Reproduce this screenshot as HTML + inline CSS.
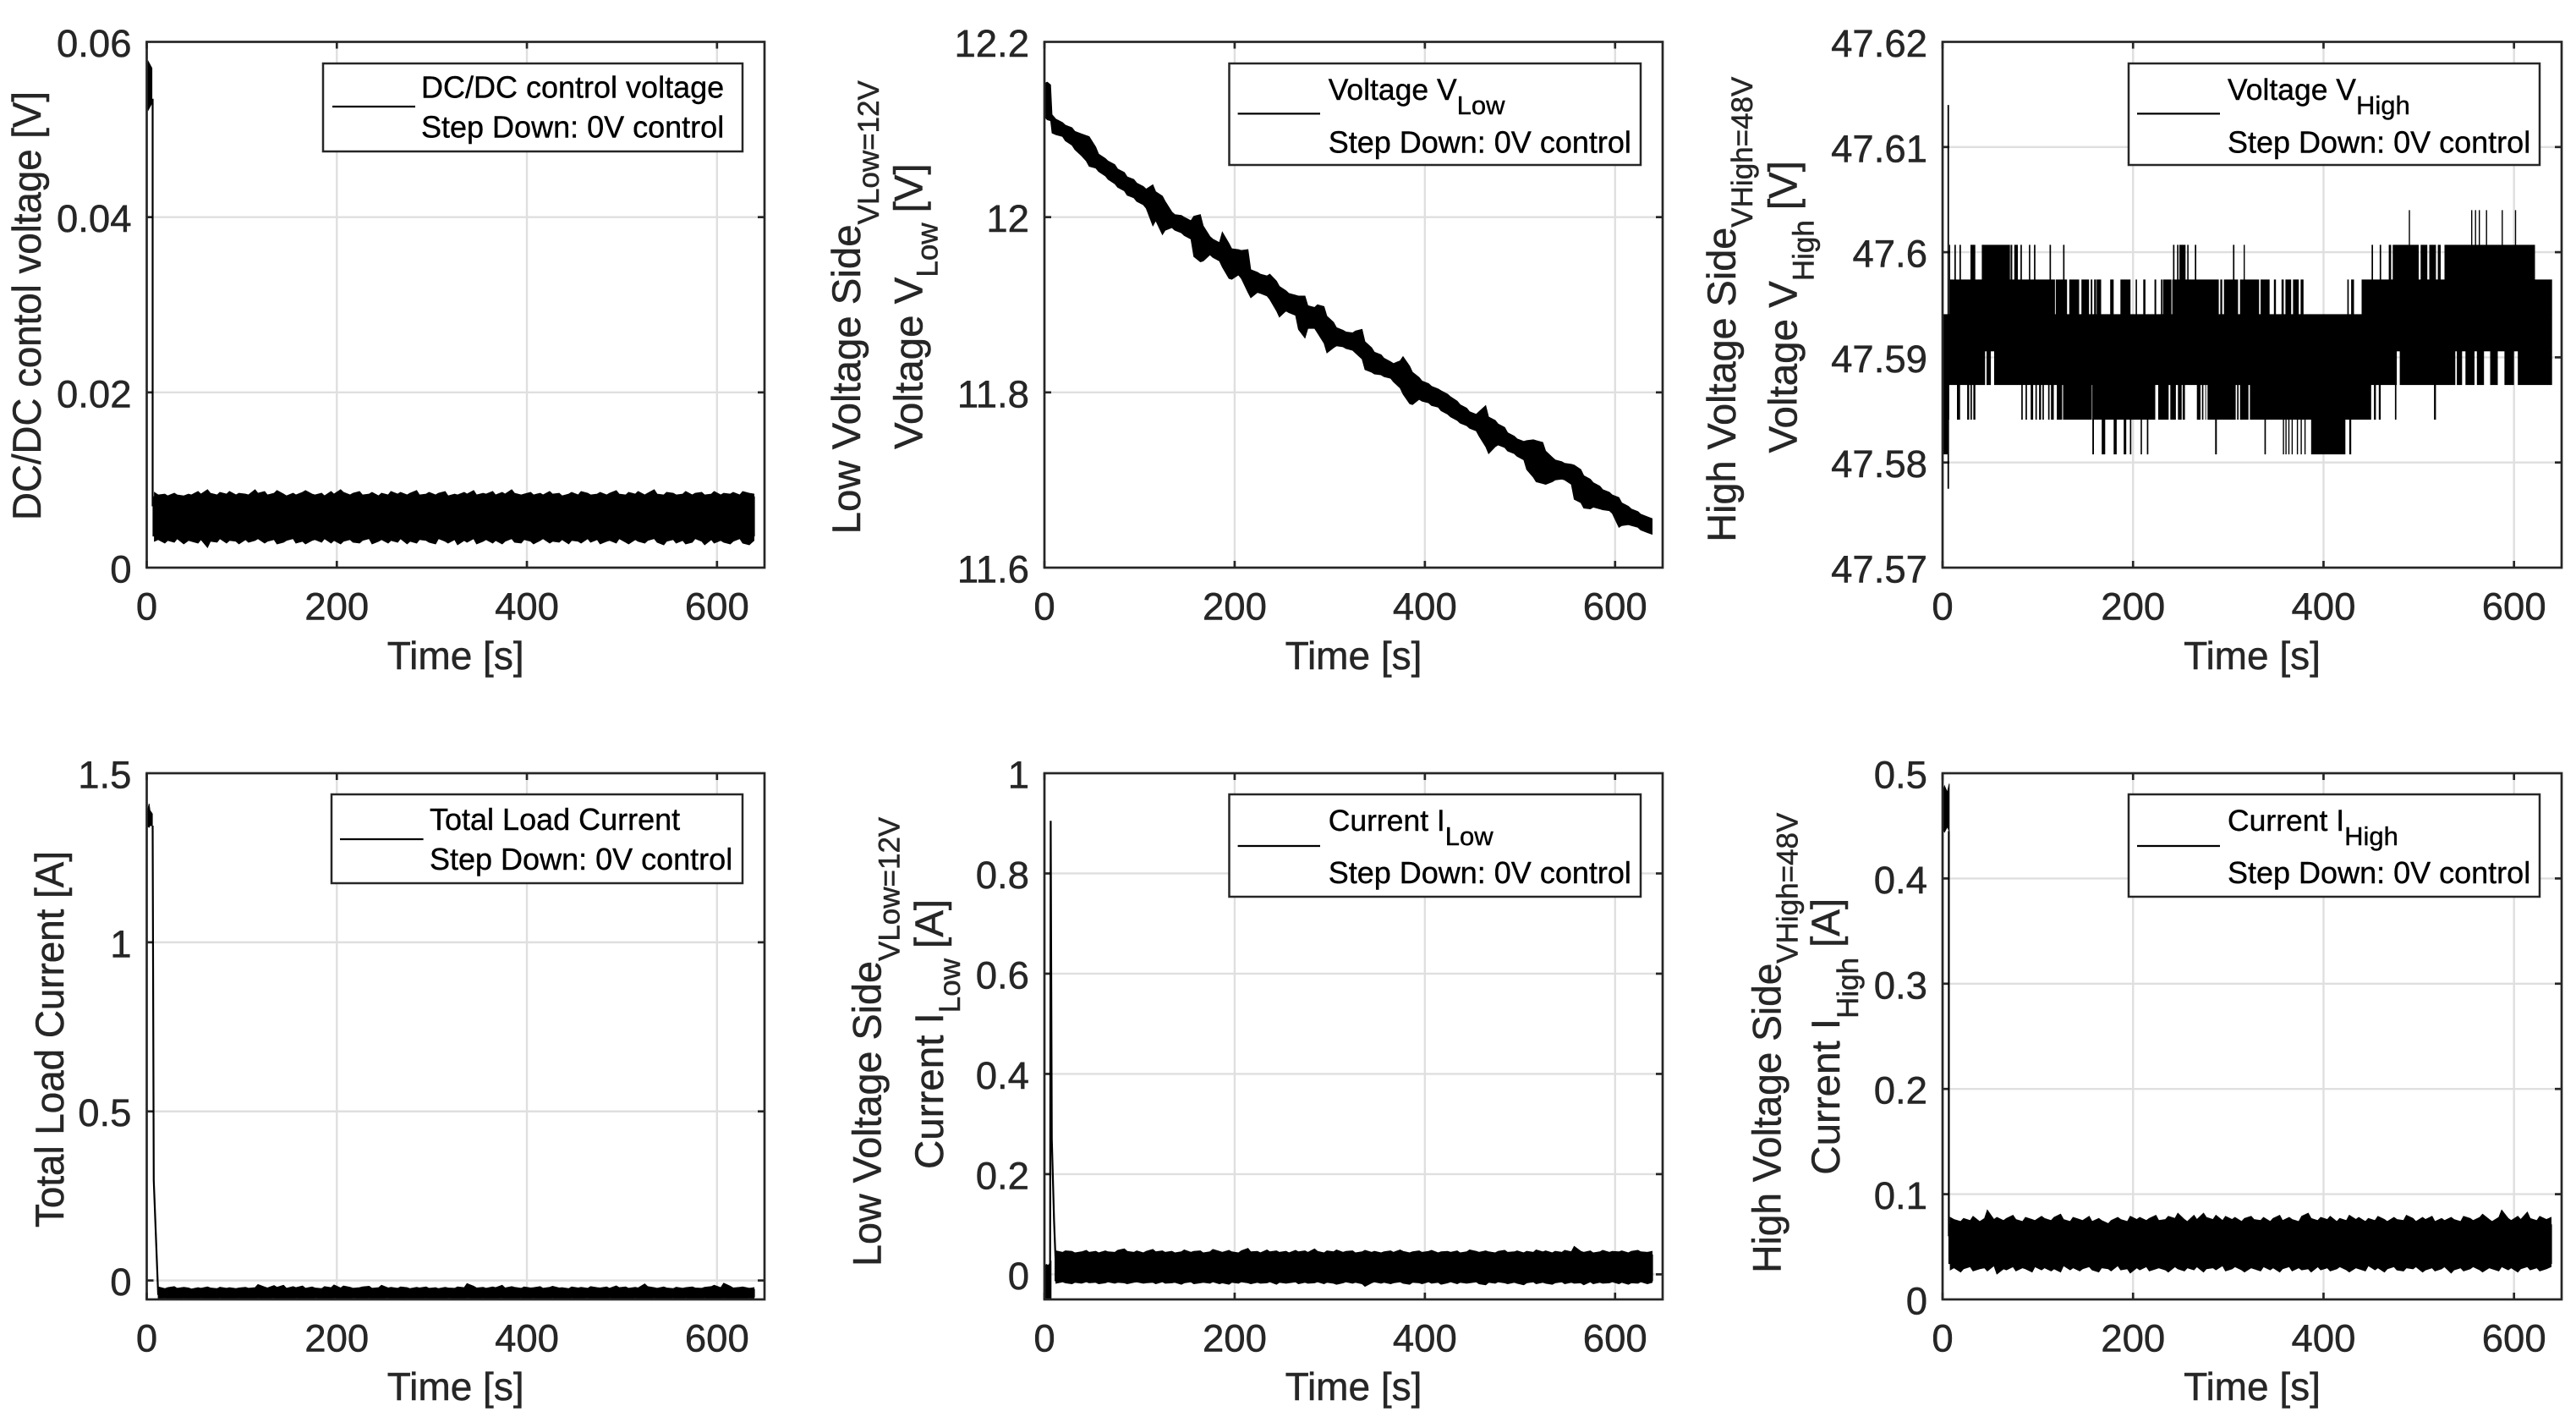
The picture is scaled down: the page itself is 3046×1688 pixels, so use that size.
<!DOCTYPE html>
<html lang="en">
<head>
<meta charset="utf-8">
<title>DC/DC step down measurements</title>
<style>
html,body{margin:0;padding:0;background:#fff;}
svg{display:block;font-family:"Liberation Sans",Arial,sans-serif;}
.lab{font-size:47.5px;fill:#262626;stroke:#262626;stroke-width:.5px;}
.xlab{font-size:46px;fill:#262626;text-anchor:middle;stroke:#262626;stroke-width:.5px;}
.sub{font-size:35px;}
.leg{font-size:36px;fill:#000;stroke:#000;stroke-width:.4px;}
.legsub{font-size:31px;}
.frame{fill:none;stroke:#262626;stroke-width:2.7;}
.legbox{fill:#fff;stroke:#262626;stroke-width:2.5;}
.tick{font-size:45.5px;fill:#262626;stroke:#262626;stroke-width:.5px;}
</style>
</head>
<body>
<svg id="chart" xmlns="http://www.w3.org/2000/svg" width="3046" height="1688" viewBox="0 0 3046 1688">
<rect width="3046" height="1688" fill="#fff"/>
<defs>
<clipPath id="clip-ctrl"><rect x="173.5" y="49.5" width="730.5" height="621.5"/></clipPath>
<clipPath id="clip-vlow"><rect x="1235" y="49.5" width="731" height="621.5"/></clipPath>
<clipPath id="clip-vhigh"><rect x="2297" y="49.5" width="732" height="621.5"/></clipPath>
<clipPath id="clip-load"><rect x="173.5" y="914" width="730.5" height="622"/></clipPath>
<clipPath id="clip-ilow"><rect x="1235" y="914" width="731" height="622"/></clipPath>
<clipPath id="clip-ihigh"><rect x="2297" y="914" width="732" height="622"/></clipPath>
</defs>

<g>
<g id="ctrl-grid"></g>
<g id="ctrl-marks" clip-path="url(#clip-ctrl)"></g>
<rect class="frame" x="173.5" y="49.5" width="730.5" height="621.5"/>
<text class="xlab" x="538.7" y="791">Time [s]</text>
<text class="lab" transform="translate(48,615) rotate(-90)" textLength="507" lengthAdjust="spacingAndGlyphs">DC/DC contol voltage [V]</text>
<g>
<rect class="legbox" x="382" y="75" width="496" height="104"/>
<line x1="393" x2="491" y1="126" y2="126" stroke="#000" stroke-width="2.2"/>
<text class="leg" x="498" y="115.5">DC/DC control voltage</text>
<text class="leg" x="498" y="162.6">Step Down: 0V control</text>
</g>
</g>

<g>
<g id="vlow-grid"></g>
<g id="vlow-marks" clip-path="url(#clip-vlow)"></g>
<rect class="frame" x="1235" y="49.5" width="731" height="621.5"/>
<text class="xlab" x="1600.5" y="791">Time [s]</text>
<text class="lab" transform="translate(1017,631.4) rotate(-90)"><tspan textLength="366" lengthAdjust="spacingAndGlyphs">Low Voltage Side</tspan><tspan class="sub" dy="22">VLow=12V</tspan></text>
<text class="lab" transform="translate(1090.6,531) rotate(-90)">Voltage V<tspan class="sub" dy="18">Low</tspan><tspan dy="-18" dx="12">[V]</tspan></text>
<g>
<rect class="legbox" x="1453.5" y="75" width="486.5" height="120"/>
<line x1="1463.6" x2="1561" y1="134.4" y2="134.4" stroke="#000" stroke-width="2.2"/>
<text class="leg" x="1570.7" y="118" font-size="35.5" style="font-size:35.5px">Voltage V<tspan class="legsub" dy="17">Low</tspan></text>
<text class="leg" x="1570.7" y="180.5">Step Down: 0V control</text>
</g>
</g>

<g>
<g id="vhigh-grid"></g>
<g id="vhigh-marks" clip-path="url(#clip-vhigh)"></g>
<rect class="frame" x="2297" y="49.5" width="732" height="621.5"/>
<text class="xlab" x="2663" y="791">Time [s]</text>
<text class="lab" transform="translate(2052,640.7) rotate(-90)"><tspan textLength="372" lengthAdjust="spacingAndGlyphs">High Voltage Side</tspan><tspan class="sub" dy="20">VHigh=48V</tspan></text>
<text class="lab" transform="translate(2124.7,535.5) rotate(-90)">Voltage V<tspan class="sub" dy="20">High</tspan><tspan dy="-20" dx="12">[V]</tspan></text>
<g>
<rect class="legbox" x="2517" y="75" width="486" height="120"/>
<line x1="2527" x2="2625" y1="134.4" y2="134.4" stroke="#000" stroke-width="2.2"/>
<text class="leg" x="2634" y="118" style="font-size:35.5px">Voltage V<tspan class="legsub" dy="17">High</tspan></text>
<text class="leg" x="2634" y="180.5">Step Down: 0V control</text>
</g>
</g>

<g>
<g id="load-grid"></g>
<g id="load-marks" clip-path="url(#clip-load)"></g>
<rect class="frame" x="173.5" y="914" width="730.5" height="622"/>
<text class="xlab" x="538.7" y="1655">Time [s]</text>
<text class="lab" transform="translate(75,1451) rotate(-90)" textLength="445" lengthAdjust="spacingAndGlyphs">Total Load Current [A]</text>
<g>
<rect class="legbox" x="392" y="939" width="486" height="105"/>
<line x1="402" x2="500.6" y1="992" y2="992" stroke="#000" stroke-width="2.2"/>
<text class="leg" x="508" y="981">Total Load Current</text>
<text class="leg" x="508" y="1028">Step Down: 0V control</text>
</g>
</g>

<g>
<g id="ilow-grid"></g>
<g id="ilow-marks" clip-path="url(#clip-ilow)"></g>
<rect class="frame" x="1235" y="914" width="731" height="622"/>
<text class="xlab" x="1600.5" y="1655">Time [s]</text>
<text class="lab" transform="translate(1041.7,1497) rotate(-90)"><tspan textLength="361" lengthAdjust="spacingAndGlyphs">Low Voltage Side</tspan><tspan class="sub" dy="22">VLow=12V</tspan></text>
<text class="lab" transform="translate(1115,1382) rotate(-90)">Current I<tspan class="sub" dy="20">Low</tspan><tspan dy="-20" dx="12">[A]</tspan></text>
<g>
<rect class="legbox" x="1453.5" y="939" width="486.5" height="121"/>
<line x1="1463.6" x2="1561" y1="1000" y2="1000" stroke="#000" stroke-width="2.2"/>
<text class="leg" x="1570.7" y="982" style="font-size:35.5px">Current I<tspan class="legsub" dy="17">Low</tspan></text>
<text class="leg" x="1570.7" y="1044">Step Down: 0V control</text>
</g>
</g>

<g>
<g id="ihigh-grid"></g>
<g id="ihigh-marks" clip-path="url(#clip-ihigh)"></g>
<rect class="frame" x="2297" y="914" width="732" height="622"/>
<text class="xlab" x="2663" y="1655">Time [s]</text>
<text class="lab" transform="translate(2105.4,1504.7) rotate(-90)"><tspan textLength="366" lengthAdjust="spacingAndGlyphs">High Voltage Side</tspan><tspan class="sub" dy="20">VHigh=48V</tspan></text>
<text class="lab" transform="translate(2174.8,1388.7) rotate(-90)">Current I<tspan class="sub" dy="22">High</tspan><tspan dy="-22" dx="12">[A]</tspan></text>
<g>
<rect class="legbox" x="2517" y="939" width="486" height="121"/>
<line x1="2527" x2="2625" y1="1000" y2="1000" stroke="#000" stroke-width="2.2"/>
<text class="leg" x="2634" y="982" style="font-size:35.5px">Current I<tspan class="legsub" dy="17">High</tspan></text>
<text class="leg" x="2634" y="1044">Step Down: 0V control</text>
</g>
</g>
</svg>

<script>
// ---- shared axis data ----
const xTicks = [0, 200, 400, 600];
const xTickLabels = ['0', '200', '400', '600'];

// sample times of the noise envelopes [s]
const sampleTime = [
8,12,19,22,29,32,39,44,47,54,57,64,67,74,77,84,87,94,97,104,
107,114,117,124,127,134,137,144,147,154,157,164,167,174,177,184,187,194,197,204,
207,214,217,224,227,234,237,244,247,254,257,264,267,274,277,284,287,294,297,304,
307,314,317,324,327,334,337,344,347,354,357,364,367,374,377,384,387,394,397,404,
407,414,417,424,427,434,437,444,447,454,457,464,467,474,477,484,487,494,497,504,
507,514,517,524,527,534,537,544,547,554,557,564,567,574,577,584,587,594,597,604,
607,614,617,624,627,634,639];

// ---- DC/DC control voltage ----
const ctrlYTicks = [0, 0.02, 0.04, 0.06];
const ctrlYLabels = ['0', '0.02', '0.04', '0.06'];
const ctrlStartTime = [0, 1.5, 3, 5.5];
const ctrlStartHigh = [0.0565, 0.0578, 0.0575, 0.0570];
const ctrlStartLow = [0.0535, 0.0522, 0.0525, 0.0530];
const ctrlDropTime = [6.2, 6.2];
const ctrlDropValue = [0.0535, 0.0070];
const ctrlBodyTime = [6.5, 320, 639.5];
const ctrlBodyHigh = [0.0081, 0.0081, 0.0081];
const ctrlBodyLow = [0.0036, 0.0036, 0.0036];
const ctrlHigh = [
.0086,.0083,.0084,.0082,.0085,.0083,.0082,.0084,.0083,.0087,
.0084,.0089,.0085,.0083,.0086,.0084,.0087,.0083,.0085,.0084,
.0083,.0089,.0085,.0087,.0083,.0085,.0088,.0084,.0082,.0085,
.0083,.0086,.0088,.0084,.0083,.0085,.0082,.0087,.0084,.0089,
.0086,.0083,.0085,.0087,.0083,.0084,.0086,.0082,.0085,.0083,
.0087,.0084,.0086,.0083,.0085,.0088,.0083,.0084,.0086,.0083,
.0085,.0087,.0082,.0084,.0083,.0086,.0084,.0088,.0083,.0085,
.0084,.0087,.0083,.0086,.0084,.0089,.0085,.0083,.0084,.0086,
.0083,.0085,.0083,.0087,.0084,.0085,.0082,.0084,.0086,.0083,
.0087,.0085,.0083,.0084,.0086,.0083,.0085,.0088,.0084,.0083,
.0086,.0084,.0087,.0083,.0085,.0089,.0084,.0083,.0086,.0085,
.0083,.0084,.0087,.0083,.0085,.0086,.0083,.0084,.0087,.0083,
.0085,.0084,.0086,.0083,.0087,.0085,.0084];
const ctrlLow = [
.0030,.0032,.0028,.0031,.0029,.0033,.0027,.0031,.0030,.0028,
.0032,.0023,.0030,.0029,.0033,.0028,.0031,.0030,.0027,.0032,
.0029,.0031,.0033,.0028,.0030,.0032,.0027,.0029,.0031,.0033,
.0028,.0030,.0027,.0031,.0032,.0029,.0033,.0028,.0031,.0027,
.0030,.0032,.0029,.0028,.0031,.0033,.0027,.0030,.0032,.0028,
.0031,.0029,.0033,.0027,.0030,.0028,.0032,.0031,.0029,.0027,
.0033,.0030,.0028,.0032,.0026,.0031,.0029,.0033,.0027,.0030,
.0032,.0028,.0031,.0027,.0030,.0033,.0029,.0028,.0032,.0030,
.0027,.0031,.0033,.0028,.0030,.0029,.0032,.0027,.0031,.0030,
.0028,.0033,.0029,.0032,.0027,.0030,.0031,.0028,.0033,.0029,
.0027,.0032,.0030,.0028,.0031,.0033,.0029,.0026,.0030,.0032,
.0028,.0031,.0027,.0029,.0033,.0030,.0026,.0032,.0028,.0031,
.0029,.0027,.0030,.0033,.0028,.0026,.0031];

// ---- Voltage V_Low (drifting envelope) ----
const vLowYTicks = [11.6, 11.8, 12, 12.2];
const vLowYLabels = ['11.6', '11.8', '12', '12.2'];
const vLowStartTime = [0.5, 3, 6.5, 8];
const vLowStartHigh = [12.153, 12.154, 12.151, 12.117];
const vLowStartLow = [12.114, 12.111, 12.110, 12.096];
const vLowHigh = [
12.117,12.112,12.108,12.105,12.102,12.098,12.095,12.093,12.092,12.080,
12.072,12.067,12.064,12.060,12.055,12.051,12.046,12.043,12.039,12.035,
12.032,12.037,12.029,12.024,12.018,12.006,12.003,12.002,12.000,11.996,
12.001,12.003,11.990,11.978,11.975,11.971,11.983,11.970,11.964,11.963,
11.962,11.963,11.940,11.937,11.935,11.933,11.935,11.927,11.921,11.916,
11.913,11.911,11.910,11.910,11.899,11.897,11.900,11.898,11.887,11.880,
11.874,11.871,11.869,11.868,11.870,11.872,11.858,11.851,11.846,11.843,
11.839,11.835,11.833,11.836,11.841,11.830,11.823,11.817,11.813,11.810,
11.807,11.804,11.802,11.798,11.795,11.790,11.786,11.782,11.778,11.775,
11.778,11.785,11.772,11.768,11.764,11.760,11.754,11.750,11.747,11.744,
11.745,11.746,11.745,11.743,11.733,11.726,11.723,11.721,11.719,11.718,
11.717,11.712,11.705,11.701,11.697,11.693,11.689,11.686,11.683,11.680,
11.674,11.670,11.667,11.664,11.661,11.658,11.656];
const vLowLow = [
12.096,12.094,12.092,12.087,12.082,12.077,12.070,12.064,12.058,12.056,
12.052,12.047,12.043,12.038,12.034,12.030,12.025,12.022,12.018,12.014,
12.010,11.990,11.996,11.980,11.985,11.988,11.985,11.982,11.979,11.975,
11.955,11.949,11.950,11.957,11.954,11.950,11.943,11.930,11.929,11.934,
11.930,11.914,11.908,11.914,11.913,11.910,11.906,11.893,11.886,11.893,
11.891,11.888,11.872,11.862,11.873,11.873,11.868,11.856,11.845,11.851,
11.853,11.852,11.850,11.848,11.845,11.838,11.826,11.823,11.821,11.820,
11.818,11.816,11.812,11.805,11.798,11.787,11.786,11.792,11.790,11.788,
11.785,11.783,11.779,11.775,11.772,11.768,11.765,11.762,11.759,11.756,
11.750,11.738,11.730,11.738,11.740,11.737,11.733,11.730,11.727,11.723,
11.712,11.703,11.698,11.696,11.695,11.698,11.700,11.701,11.700,11.695,
11.678,11.674,11.668,11.667,11.669,11.667,11.666,11.665,11.662,11.646,
11.648,11.649,11.648,11.646,11.643,11.640,11.638];

// ---- Voltage V_High (quantised ADC levels, occupied time runs per level row) ----
const vHighYTicks = [47.57, 47.58, 47.59, 47.6, 47.61, 47.62];
const vHighYLabels = ['47.57', '47.58', '47.59', '47.6', '47.61', '47.62'];
const vHighLevels = [47.5808, 47.5841, 47.5874, 47.5906, 47.5941, 47.5974, 47.6007, 47.6040];
const vHighRow0Start = [0,157.3,167.1,179.6,190.2,196.7,208,214.5,286.2,338,357.3,360,363,366.5,372,376,380,387,427];
const vHighRow0End = [6,159,170.7,182.8,192.9,198.2,209.4,216,288,339.5,358.5,361.2,364.2,367.7,373.2,377.2,381.2,423,429];
const vHighRow1Start = [0,15.1,25.8,29.3,32.3,82.7,87.1,92.5,97.5,101.3,104.9,110.8,113.8,120,126.5,157.3,226.4,239.1,247.1,252.1,267,272.3,275.9,278.2,309.3,312.3,322.7,453,458,475,516];
const vHighRow1End = [7,18.4,27.9,30.8,34.4,84.2,88.6,95.1,99,103.4,106.4,112.3,116.7,125.6,156.7,223.4,237.3,245,251,254.5,270.8,273.8,276.7,307.8,310.8,321.2,450,455,460,476.5,518];
const vHighRow2Start = [0,46.2,54.2,480,540,549,561,575,590,604];
const vHighRow2End = [44.7,50.7,477,538.3,545.5,558.5,568.5,583,600,640];
const vHighRow3Start = [0];
const vHighRow3End = [640];
const vHighRow4Start = [7,118.8,133,145.8,155.6,159.1,161.8,176,186.7,202.7,210.7,222.5,229.3,231.4,241.2,291.6,295.4,312.3,333.9,347.9,355.9,360,368,376,425,429,440];
const vHighRow4End = [118,130.7,143.4,153.8,157.3,161.2,166.5,179.6,197.3,204.1,213,224.3,230.8,240.3,290,293.6,310.2,332.4,343.4,350,358.2,366,374,379,426.5,432,640];
const vHighRow5Start = [7,12.4,17.8,29.3,41.2,71.4,75.3,81.8,90.7,96,112.3,126.5,242,246.2,248.6,256.9,264.9,304.9,316.1,450.5,459,468.5,472.7,502,511,520,527];
const vHighRow5End = [8,13.9,19.3,34.4,70.8,73.2,79,83.3,92.1,97.5,113.8,128,243.5,247.7,255.1,258.3,266.4,306.4,317.3,452,460.5,471,500,509,518,523,622];
const vHighRow6Start = [489.5,555,559,563,570.5,587,601];
const vHighRow6End = [490.7,556.2,560.2,564.2,571.7,588.2,602.2];
const vHighSpikeTime = [6];
const vHighSpikeHigh = [47.614];
const vHighSpikeLow = [47.5775];

// ---- Total load current ----
const loadYTicks = [0, 0.5, 1, 1.5];
const loadYLabels = ['0', '0.5', '1', '1.5'];
const loadStartTime = [0, 2.5, 3.5, 6];
const loadStartHigh = [1.38, 1.41, 1.39, 1.38];
const loadStartLow = [1.345, 1.34, 1.345, 1.345];
const loadDropTime = [6.2, 7.4, 12, 13];
const loadDropValue = [1.345, 0.296, -0.04, -0.04];
const loadBodyTime = [13, 320, 639.5];
const loadBodyHigh = [-0.026, -0.026, -0.026];
const loadBodyLow = [-0.049, -0.049, -0.049];
const loadHigh = [
-.022,-.019,-.024,-.021,-.018,-.023,-.020,-.022,-.025,-.021,
-.023,-.019,-.022,-.024,-.020,-.023,-.021,-.024,-.022,-.020,
-.023,-.021,-.012,-.019,-.022,-.015,-.020,-.014,-.023,-.018,
-.021,-.016,-.023,-.019,-.022,-.024,-.018,-.021,-.013,-.022,
-.016,-.020,-.023,-.021,-.019,-.017,-.023,-.021,-.014,-.022,
-.020,-.023,-.019,-.021,-.024,-.020,-.022,-.019,-.023,-.021,
-.024,-.020,-.022,-.023,-.019,-.021,-.009,-.017,-.022,-.020,
-.023,-.019,-.021,-.014,-.022,-.018,-.020,-.023,-.019,-.022,
-.021,-.018,-.023,-.020,-.017,-.022,-.021,-.024,-.019,-.022,
-.020,-.023,-.018,-.021,-.022,-.019,-.023,-.016,-.021,-.019,
-.023,-.020,-.022,-.010,-.018,-.021,-.023,-.019,-.022,-.024,
-.020,-.023,-.021,-.019,-.022,-.023,-.020,-.018,-.014,-.021,
-.008,-.017,-.022,-.020,-.019,-.023,-.021];
const loadLow = [
-.053,-.055,-.052,-.054,-.053,-.056,-.052,-.054,-.053,-.055,
-.052,-.054,-.056,-.053,-.052,-.055,-.053,-.054,-.052,-.056,
-.053,-.055,-.052,-.054,-.053,-.052,-.055,-.054,-.053,-.056,
-.052,-.054,-.053,-.055,-.052,-.053,-.056,-.054,-.052,-.053,
-.055,-.054,-.052,-.053,-.056,-.052,-.054,-.055,-.053,-.052,
-.054,-.053,-.056,-.052,-.055,-.053,-.054,-.052,-.055,-.053,
-.054,-.056,-.052,-.053,-.055,-.054,-.052,-.053,-.055,-.052,
-.054,-.056,-.053,-.052,-.055,-.053,-.054,-.052,-.056,-.053,
-.052,-.055,-.054,-.053,-.052,-.056,-.053,-.055,-.052,-.054,
-.053,-.052,-.055,-.056,-.053,-.054,-.052,-.055,-.053,-.054,
-.056,-.052,-.053,-.055,-.054,-.052,-.053,-.056,-.054,-.052,
-.055,-.053,-.052,-.054,-.056,-.053,-.052,-.055,-.053,-.054,
-.052,-.056,-.053,-.054,-.055,-.052,-.053];

// ---- Current I_Low ----
const iLowYTicks = [0, 0.2, 0.4, 0.6, 0.8, 1];
const iLowYLabels = ['0', '0.2', '0.4', '0.6', '0.8', '1'];
const iLowStartTime = [0, 2, 4, 7];
const iLowStartHigh = [0.015, 0.020, 0.018, 0.026];
const iLowStartLow = [-0.05, -0.05, -0.05, -0.05];
const iLowDropTime = [6, 6.6, 7.75, 10.1, 12.5, 13];
const iLowDropValue = [0.02, 0.905, 0.27, 0.106, -0.012, 0.0];
const iLowBodyTime = [11, 320, 639.5];
const iLowBodyHigh = [0.039, 0.039, 0.039];
const iLowBodyLow = [-0.013, -0.013, -0.013];
const iLowHigh = [
.046,.047,.044,.047,.046,.043,.045,.048,.044,.046,
.043,.047,.045,.044,.048,.051,.046,.044,.047,.043,
.046,.050,.045,.047,.044,.046,.043,.045,.049,.044,
.046,.047,.043,.045,.050,.046,.044,.048,.045,.043,
.047,.052,.045,.046,.043,.049,.045,.047,.044,.046,
.043,.048,.045,.047,.044,.051,.046,.043,.047,.045,
.049,.044,.046,.047,.043,.045,.048,.044,.046,.043,
.045,.047,.044,.049,.046,.043,.045,.047,.044,.046,
.048,.043,.045,.046,.044,.047,.043,.045,.049,.046,
.044,.047,.045,.043,.046,.048,.044,.045,.047,.043,
.046,.044,.049,.045,.047,.043,.046,.044,.048,.045,
.056,.046,.044,.047,.043,.045,.048,.044,.046,.045,
.047,.043,.046,.048,.045,.044,.046];
const iLowLow = [
-.016,-.018,-.015,-.017,-.019,-.016,-.018,-.015,-.017,-.016,
-.019,-.017,-.015,-.018,-.016,-.017,-.019,-.016,-.015,-.018,
-.017,-.016,-.019,-.015,-.018,-.017,-.016,-.020,-.017,-.015,
-.019,-.017,-.016,-.018,-.015,-.019,-.017,-.020,-.016,-.018,
-.015,-.017,-.019,-.016,-.018,-.017,-.015,-.020,-.016,-.018,
-.017,-.015,-.019,-.016,-.018,-.017,-.015,-.019,-.016,-.018,
-.020,-.017,-.015,-.018,-.016,-.019,-.024,-.017,-.015,-.018,
-.016,-.019,-.017,-.015,-.018,-.020,-.016,-.017,-.019,-.015,
-.018,-.016,-.020,-.017,-.015,-.019,-.016,-.018,-.017,-.015,
-.019,-.021,-.016,-.018,-.015,-.017,-.019,-.016,-.018,-.021,
-.017,-.015,-.019,-.016,-.018,-.020,-.017,-.015,-.019,-.016,
-.018,-.017,-.021,-.015,-.019,-.016,-.018,-.017,-.015,-.019,
-.016,-.020,-.017,-.018,-.015,-.019,-.016];

// ---- Current I_High ----
const iHighYTicks = [0, 0.1, 0.2, 0.3, 0.4, 0.5];
const iHighYLabels = ['0', '0.1', '0.2', '0.3', '0.4', '0.5'];
const iHighStartTime = [0, 2, 5, 7];
const iHighStartHigh = [0.480, 0.488, 0.482, 0.490];
const iHighStartLow = [0.447, 0.444, 0.449, 0.445];
const iHighDropTime = [6.6, 6.6];
const iHighDropValue = [0.445, 0.060];
const iHighBodyTime = [6.5, 320, 639.5];
const iHighBodyHigh = [0.071, 0.071, 0.071];
const iHighBodyLow = [0.034, 0.034, 0.034];
const iHighHigh = [
.078,.076,.074,.077,.075,.079,.074,.077,.085,.076,
.078,.075,.077,.080,.076,.074,.078,.076,.075,.079,
.077,.075,.078,.081,.076,.074,.078,.076,.075,.079,
.074,.077,.075,.072,.075,.078,.076,.074,.079,.076,
.078,.075,.077,.080,.075,.076,.079,.077,.082,.076,
.074,.080,.076,.082,.078,.076,.080,.075,.079,.076,
.078,.074,.077,.079,.076,.075,.078,.074,.077,.080,
.075,.078,.076,.074,.079,.082,.077,.075,.078,.076,
.079,.074,.077,.075,.080,.076,.078,.074,.077,.075,
.079,.076,.074,.078,.076,.075,.080,.077,.074,.078,
.076,.079,.074,.077,.075,.078,.076,.074,.079,.077,
.075,.078,.081,.076,.074,.078,.085,.077,.075,.079,
.076,.083,.077,.075,.079,.076,.078];
const iHighLow = [
.028,.030,.026,.029,.031,.027,.029,.030,.027,.032,
.024,.029,.028,.031,.027,.030,.029,.026,.031,.028,
.030,.027,.029,.026,.032,.028,.030,.027,.029,.031,
.028,.026,.030,.029,.027,.032,.028,.029,.025,.030,
.028,.031,.027,.029,.030,.028,.026,.031,.029,.027,
.030,.028,.031,.026,.029,.030,.028,.032,.027,.029,
.031,.028,.026,.030,.029,.027,.031,.028,.030,.026,
.029,.031,.027,.030,.028,.029,.026,.031,.028,.030,
.027,.029,.031,.028,.026,.030,.029,.027,.032,.028,
.030,.026,.029,.031,.028,.027,.030,.029,.031,.026,
.028,.030,.027,.029,.031,.025,.028,.030,.027,.029,
.031,.028,.026,.030,.029,.027,.031,.028,.030,.026,
.029,.031,.028,.030,.027,.029,.031];

// ---- axes geometry ----
const SVGNS = 'http://www.w3.org/2000/svg';
const axCtrl = {key:'ctrl', left:173.5, right:904, top:49.5, bottom:671, xMax:650, yMin:0, yMax:0.06};
const axVLow = {key:'vlow', left:1235, right:1966, top:49.5, bottom:671, xMax:650, yMin:11.6, yMax:12.2};
const axVHigh = {key:'vhigh', left:2297, right:3029, top:49.5, bottom:671, xMax:650, yMin:47.57, yMax:47.62};
const axLoad = {key:'load', left:173.5, right:904, top:914, bottom:1536, xMax:650, yMin:-0.056, yMax:1.5};
const axILow = {key:'ilow', left:1235, right:1966, top:914, bottom:1536, xMax:650, yMin:-0.05, yMax:1};
const axIHigh = {key:'ihigh', left:2297, right:3029, top:914, bottom:1536, xMax:650, yMin:0, yMax:0.5};

function xScale(ax, t) {
  return ax.left + t / ax.xMax * (ax.right - ax.left);
}
function yScale(ax, v) {
  return ax.bottom - (v - ax.yMin) / (ax.yMax - ax.yMin) * (ax.bottom - ax.top);
}
function node(tag, parent) {
  const el = document.createElementNS(SVGNS, tag);
  parent.appendChild(el);
  return el;
}

function drawAxes(ax, yTicks, yLabels) {
  const g = document.getElementById(ax.key + '-grid');
  const tickLen = 8;
  xTicks.forEach(function (t, i) {
    const x = xScale(ax, t);
    if (t > 0) {
      const gl = node('line', g);
      
      
      gl.setAttribute('x1', x); gl.setAttribute('x2', x);
      gl.setAttribute('y1', ax.top); gl.setAttribute('y2', ax.bottom);
      gl.setAttribute('stroke', '#dfdfdf'); gl.setAttribute('stroke-width', '2.4');
    }
    [[ax.bottom, ax.bottom - tickLen], [ax.top, ax.top + tickLen]].forEach(function (p) {
      const tk = node('line', g);
      
      
      tk.setAttribute('x1', x); tk.setAttribute('x2', x);
      tk.setAttribute('y1', p[0]); tk.setAttribute('y2', p[1]);
      tk.setAttribute('stroke', '#262626'); tk.setAttribute('stroke-width', '2.7');
    });
    const lb = node('text', g);
    
    
    lb.setAttribute('x', x); lb.setAttribute('y', ax.bottom + 61.5);
    lb.setAttribute('text-anchor', 'middle');
    lb.setAttribute('class', 'tick');
    lb.textContent = xTickLabels[i];
  });
  yTicks.forEach(function (v, i) {
    const y = yScale(ax, v);
    if (v > ax.yMin && v < ax.yMax) {
      const gl = node('line', g);
      
      
      gl.setAttribute('x1', ax.left); gl.setAttribute('x2', ax.right);
      gl.setAttribute('y1', y); gl.setAttribute('y2', y);
      gl.setAttribute('stroke', '#dfdfdf'); gl.setAttribute('stroke-width', '2.4');
      [[ax.left, ax.left + 8], [ax.right, ax.right - 8]].forEach(function (p) {
        const tk = node('line', g);
        
        
        tk.setAttribute('x1', p[0]); tk.setAttribute('x2', p[1]);
        tk.setAttribute('y1', y); tk.setAttribute('y2', y);
        tk.setAttribute('stroke', '#262626'); tk.setAttribute('stroke-width', '2.7');
      });
    }
    const lb = node('text', g);
    
    
    lb.setAttribute('x', ax.left - 18); lb.setAttribute('y', y + 17.5);
    lb.setAttribute('text-anchor', 'end');
    lb.setAttribute('class', 'tick');
    lb.textContent = yLabels[i];
  });
}

function bandPoints(ax, time, high, low) {
  const up = time.map(function (t, i) { return xScale(ax, t).toFixed(1) + ',' + yScale(ax, high[i]).toFixed(1); });
  const down = time.map(function (t, i) { return xScale(ax, t).toFixed(1) + ',' + yScale(ax, low[i]).toFixed(1); }).reverse();
  return up.concat(down).join(' ');
}

function drawBand(ax, time, high, low, name) {
  const g = document.getElementById(ax.key + '-marks');
  const poly = node('polygon', g);
  
  
  poly.setAttribute('points', bandPoints(ax, time, high, low));
  poly.setAttribute('fill', '#000');
  poly.setAttribute('stroke', '#000');
  poly.setAttribute('stroke-width', '0.8');
}

function drawTrace(ax, time, value) {
  const g = document.getElementById(ax.key + '-marks');
  const line = node('polyline', g);
  
  
  line.setAttribute('points', time.map(function (t, i) { return xScale(ax, t).toFixed(1) + ',' + yScale(ax, value[i]).toFixed(1); }).join(' '));
  line.setAttribute('fill', 'none');
  line.setAttribute('stroke', '#000');
  line.setAttribute('stroke-width', '2.2');
}

function drawSpike(ax, time, high, low) {
  const g = document.getElementById(ax.key + '-marks');
  time.forEach(function (t, i) {
    const sp = node('line', g);
    
    
    sp.setAttribute('x1', xScale(ax, t)); sp.setAttribute('x2', xScale(ax, t));
    sp.setAttribute('y1', yScale(ax, high[i])); sp.setAttribute('y2', yScale(ax, low[i]));
    sp.setAttribute('stroke', '#000'); sp.setAttribute('stroke-width', '1.8');
  });
}

function drawRow(ax, rowIndex, starts, ends) {
  const g = document.getElementById(ax.key + '-marks');
  starts.forEach(function (s, i) {
    const x0 = xScale(ax, s);
    const x1 = xScale(ax, ends[i]);
    const yTop = yScale(ax, vHighLevels[rowIndex + 1]);
    const yBot = yScale(ax, vHighLevels[rowIndex]);
    const r = node('rect', g);
    
    
    r.setAttribute('x', x0.toFixed(1));
    r.setAttribute('y', yTop.toFixed(1));
    r.setAttribute('width', (x1 - x0).toFixed(1));
    r.setAttribute('height', (yBot - yTop + 0.4).toFixed(1));
    r.setAttribute('fill', '#000');
  });
}

// ---- draw all panels ----
drawAxes(axCtrl, ctrlYTicks, ctrlYLabels);
drawBand(axCtrl, sampleTime, ctrlHigh, ctrlLow, 'noise-envelope');
drawBand(axCtrl, ctrlBodyTime, ctrlBodyHigh, ctrlBodyLow, 'noise-body');
drawTrace(axCtrl, ctrlDropTime, ctrlDropValue);
drawBand(axCtrl, ctrlStartTime, ctrlStartHigh, ctrlStartLow, 'startup-band');

drawAxes(axVLow, vLowYTicks, vLowYLabels);
drawBand(axVLow, sampleTime, vLowHigh, vLowLow, 'voltage-low-envelope');
drawBand(axVLow, vLowStartTime, vLowStartHigh, vLowStartLow, 'startup-band');

drawAxes(axVHigh, vHighYTicks, vHighYLabels);
drawRow(axVHigh, 0, vHighRow0Start, vHighRow0End);
drawRow(axVHigh, 1, vHighRow1Start, vHighRow1End);
drawRow(axVHigh, 2, vHighRow2Start, vHighRow2End);
drawRow(axVHigh, 3, vHighRow3Start, vHighRow3End);
drawRow(axVHigh, 4, vHighRow4Start, vHighRow4End);
drawRow(axVHigh, 5, vHighRow5Start, vHighRow5End);
drawRow(axVHigh, 6, vHighRow6Start, vHighRow6End);
drawSpike(axVHigh, vHighSpikeTime, vHighSpikeHigh, vHighSpikeLow);

drawAxes(axLoad, loadYTicks, loadYLabels);
drawBand(axLoad, sampleTime.slice(1), loadHigh.slice(1), loadLow.slice(1), 'noise-envelope');
drawBand(axLoad, loadBodyTime, loadBodyHigh, loadBodyLow, 'noise-body');
drawTrace(axLoad, loadDropTime, loadDropValue);
drawBand(axLoad, loadStartTime, loadStartHigh, loadStartLow, 'startup-band');

drawAxes(axILow, iLowYTicks, iLowYLabels);
drawBand(axILow, sampleTime.slice(1), iLowHigh.slice(1), iLowLow.slice(1), 'noise-envelope');
drawBand(axILow, iLowBodyTime, iLowBodyHigh, iLowBodyLow, 'noise-body');
drawTrace(axILow, iLowDropTime, iLowDropValue);
drawBand(axILow, iLowStartTime, iLowStartHigh, iLowStartLow, 'startup-band');

drawAxes(axIHigh, iHighYTicks, iHighYLabels);
drawBand(axIHigh, sampleTime, iHighHigh, iHighLow, 'noise-envelope');
drawBand(axIHigh, iHighBodyTime, iHighBodyHigh, iHighBodyLow, 'noise-body');
drawTrace(axIHigh, iHighDropTime, iHighDropValue);
drawBand(axIHigh, iHighStartTime, iHighStartHigh, iHighStartLow, 'startup-band');
</script>
</body>
</html>
